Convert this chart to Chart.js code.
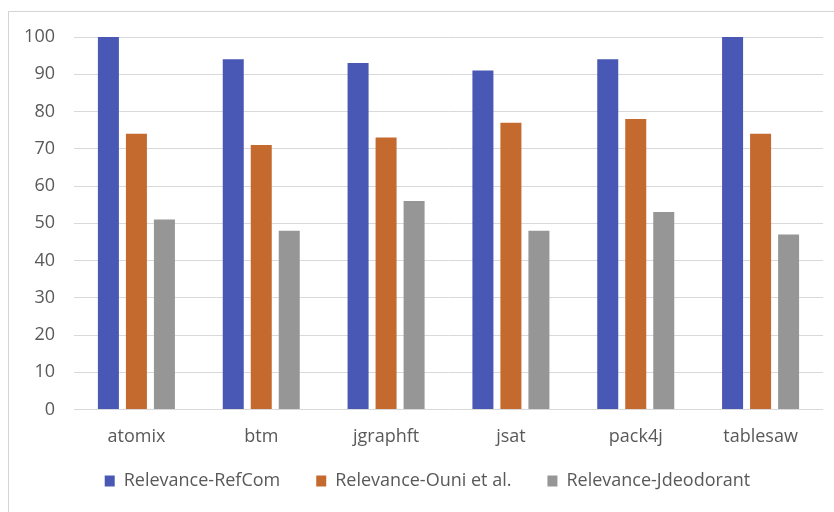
<!DOCTYPE html>
<html>
<head>
<meta charset="utf-8">
<script src="https://cdn.jsdelivr.net/npm/chart.js@4/dist/chart.umd.min.js"></script>
<style>
  html, body { margin: 0; padding: 0; background: #ffffff; }
  #frame { position: absolute; left: 8px; top: 11px; width: 900px; height: 600px;
           border-left: 1px solid #d4d4d4; border-top: 1px solid #d4d4d4; }
  #wrap { position: absolute; left: 0; top: 0; width: 834px; height: 512px; }
</style>
</head>
<body>
<div id="frame"></div>
<div id="wrap"><canvas id="c" width="834" height="512"></canvas></div>
<script>
const categories = ['atomix', 'btm', 'jgraphft', 'jsat', 'pack4j', 'tablesaw'];
const refComValues = [100, 94, 93, 91, 94, 100];
const ouniValues = [74, 71, 73, 77, 78, 74];
const jdeodorantValues = [51, 48, 56, 48, 53, 47];
const seriesNames = ['Relevance-RefCom', 'Relevance-Ouni et al.', 'Relevance-Jdeodorant'];
const yTicks = [0, 10, 20, 30, 40, 50, 60, 70, 80, 90, 100];

const FONT = { family: '"Open Sans", "DejaVu Sans", sans-serif', size: 18 };
const TEXT = '#595959';

// nudge the bottom legend box so it sits like in the original layout
const legendShift = {
  id: 'legendShift',
  afterLayout(chart) {
    const l = chart.legend;
    if (l) { l.top -= 12; l.bottom -= 12; l.left += 22; }
  }
};

new Chart(document.getElementById('c'), {
  type: 'bar',
  data: {
    labels: categories,
    datasets: [
      { label: seriesNames[0], data: refComValues, backgroundColor: '#4858B4' },
      { label: seriesNames[1], data: ouniValues, backgroundColor: '#C46A2E' },
      { label: seriesNames[2], data: jdeodorantValues, backgroundColor: '#969696' }
    ]
  },
  plugins: [legendShift],
  options: {
    responsive: false,
    animation: false,
    devicePixelRatio: 1,
    categoryPercentage: 0.673,
    barPercentage: 0.75,
    layout: { padding: { left: 10, right: 11, top: 37, bottom: 0 } },
    plugins: {
      tooltip: { enabled: false },
      legend: {
        position: 'bottom',
        labels: {
          font: FONT, color: TEXT,
          boxWidth: 10, boxHeight: 11,
          padding: 36
        }
      }
    },
    scales: {
      x: {
        grid: { display: false, drawTicks: false },
        border: { display: false },
        ticks: { font: FONT, color: TEXT, padding: 16.5, maxRotation: 0 },
        afterFit: (s) => { s.height = 38.5; }
      },
      y: {
        min: 0, max: 100,
        afterBuildTicks: (s) => { s.ticks = yTicks.map(v => ({ value: v })); },
        grid: { color: '#d9d9d9', lineWidth: 1, drawTicks: false },
        border: { display: false },
        ticks: { font: FONT, color: TEXT, padding: 19 },
        afterFit: (s) => { s.width = 64; }
      }
    }
  }
});
</script>
</body>
</html>
